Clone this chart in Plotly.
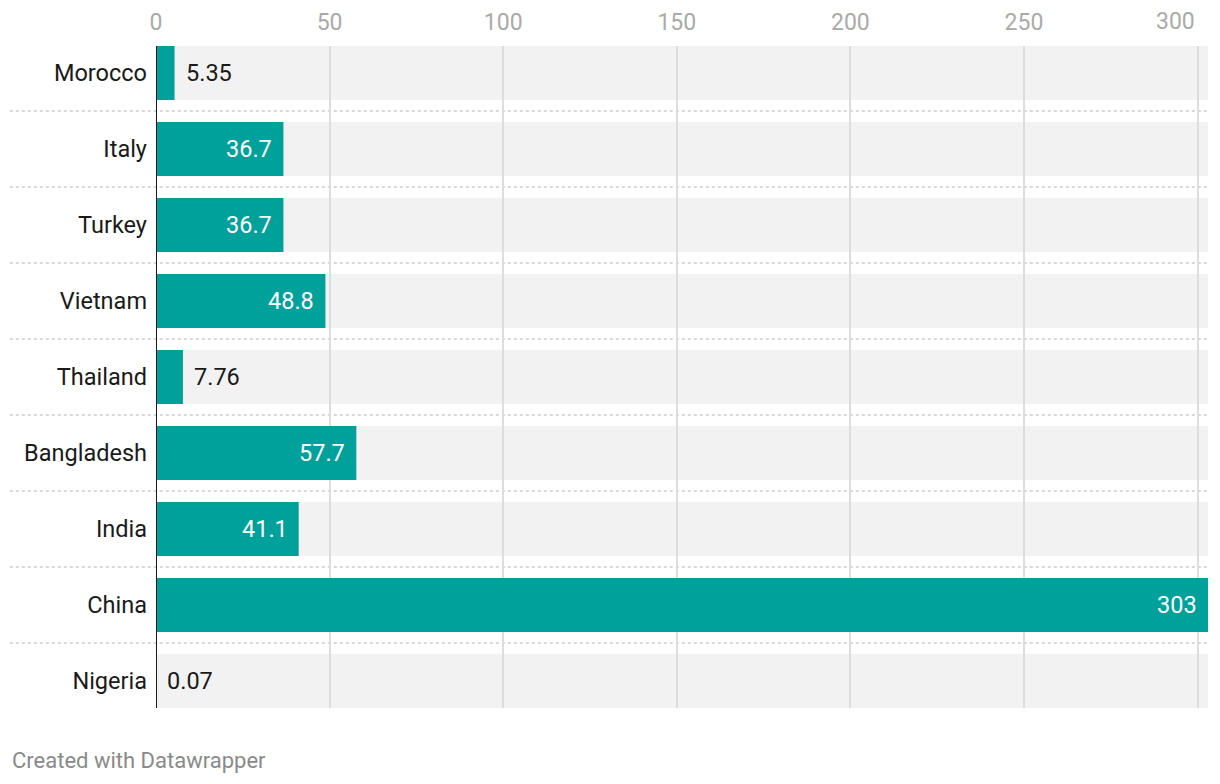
import plotly.graph_objects as go

countries = ["Morocco", "Italy", "Turkey", "Vietnam", "Thailand", "Bangladesh", "India", "China", "Nigeria"]
values = [5.35, 36.7, 36.7, 48.8, 7.76, 57.7, 41.1, 303, 0.07]
labels = ["5.35", "36.7", "36.7", "48.8", "7.76", "57.7", "41.1", "303", "0.07"]
x_ticks = [0, 50, 100, 150, 200, 250, 300]

TEAL = "#00a19a"
BG = "#f2f2f2"
FONT = "Roboto"
FS = 23.5
TICK_COLOR = "#aaaaaa"
n = len(countries)
ypos = list(range(n))
bw = 0.71
xmax = max(values)

fig = go.Figure()
fig.add_trace(go.Bar(
    x=values, y=ypos, orientation="h", width=bw,
    marker=dict(color=TEAL, line=dict(width=0)),
    hoverinfo="skip", showlegend=False,
))

shapes = []
# background bars
for i in ypos:
    shapes.append(dict(type="rect", xref="x", yref="y", x0=0, x1=xmax,
                       y0=i - bw / 2, y1=i + bw / 2, fillcolor=BG,
                       line=dict(width=0), layer="below"))
# dotted separators
for i in range(n - 1):
    shapes.append(dict(type="line", xref="paper", yref="y", x0=-0.139, x1=1,
                       y0=i + 0.5, y1=i + 0.5,
                       line=dict(color="#cccccc", width=1.5, dash="dot"),
                       layer="between"))
# zero line
shapes.append(dict(type="line", xref="x", yref="paper", x0=0, x1=0, y0=0, y1=1,
                   line=dict(color="#1a1a1a", width=2), layer="above"))

annotations = []
for i, (v, t) in enumerate(zip(values, labels)):
    inside = v >= 20
    annotations.append(dict(
        x=v, y=i, xref="x", yref="y", text=t, showarrow=False,
        xanchor="right" if inside else "left",
        xshift=-9 if inside else 9,
        font=dict(family=FONT, size=FS, color="#ffffff" if inside else "#1a1a1a"),
    ))
# last tick label right-aligned to its gridline (as Datawrapper does)
annotations.append(dict(
    x=x_ticks[-1], y=1.0363, xref="x", yref="paper", xanchor="right", yanchor="middle",
    text=str(x_ticks[-1]), showarrow=False, xshift=-1,
    font=dict(family=FONT, size=23, color=TICK_COLOR),
))
annotations.append(dict(
    x=-0.139, y=-0.079, xref="paper", yref="paper", xanchor="left", yanchor="middle",
    text="Created with Datawrapper", showarrow=False,
    font=dict(family=FONT, size=22, color="#8a8a8a"),
))

tick_text = [str(t) for t in x_ticks[:-1]] + [""]

fig.update_layout(
    width=1212, height=776,
    margin=dict(l=148, r=12, t=38, b=76, autoexpand=False),
    paper_bgcolor="white", plot_bgcolor="white",
    font=dict(family=FONT, size=FS, color="#1a1a1a"),
    bargap=0.29,
    shapes=shapes, annotations=annotations,
    xaxis=dict(
        side="top", range=[0, xmax], tickvals=x_ticks, ticktext=tick_text,
        showgrid=True, gridcolor="#dddddd", gridwidth=2,
        zeroline=False, showline=False, automargin=False,
        ticks="outside", ticklen=6, tickcolor="rgba(0,0,0,0)",
        tickfont=dict(family=FONT, size=23, color=TICK_COLOR),
        fixedrange=True,
    ),
    yaxis=dict(
        range=[n - 1 + bw / 2, -bw / 2], tickvals=ypos, ticktext=countries,
        showgrid=False, zeroline=False, showline=False, ticks="",
        ticklabelstandoff=8, automargin=False,
        tickfont=dict(family=FONT, size=FS, color="#1a1a1a"),
        fixedrange=True,
    ),
)

fig.write_html("out.html")
